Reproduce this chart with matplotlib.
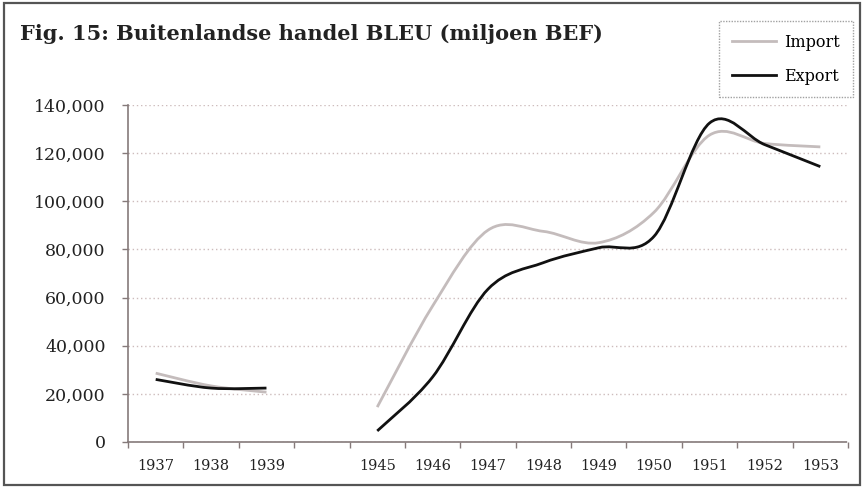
import matplotlib
matplotlib.use("Agg")
import matplotlib.pyplot as plt
from matplotlib.path import Path
from matplotlib.patches import PathPatch, Rectangle
from matplotlib.lines import Line2D
import numpy as np

categories = ['1937', '1938', '1939', '', '1945', '1946', '1947', '1948',
              '1949', '1950', '1951', '1952', '1953']
import_vals = [28600, 23300, 20700, None, 14500, 56500, 88000, 87500,
               82800, 95500, 127500, 124000, 122600]
export_vals = [26000, 22400, 22400, None, 4600, 27000, 63500, 74500,
               80700, 85500, 132500, 123500, 114400]
y_ticks = [0, 20000, 40000, 60000, 80000, 100000, 120000, 140000]

FONT = ['DejaVu Serif']
plt.rcParams['font.family'] = FONT

W, H = 864, 488
fig = plt.figure(figsize=(W / 100, H / 100), dpi=100)
ax = fig.add_axes([128 / W, 1 - 442 / H, (848 - 128) / W, (442 - 105) / H])


def smooth_path(vals):
    """Catmull-Rom style bezier through each contiguous run of points."""
    verts, codes = [], []
    runs, cur = [], []
    for i, v in enumerate(vals):
        if v is None:
            if cur:
                runs.append(cur)
            cur = []
        else:
            cur.append((i, v))
    if cur:
        runs.append(cur)
    for run in runs:
        pts = np.array(run, dtype=float)
        n = len(pts)
        verts.append(tuple(pts[0]))
        codes.append(Path.MOVETO)
        for k in range(n - 1):
            p0 = pts[k - 1] if k > 0 else pts[k]
            p1 = pts[k]
            p2 = pts[k + 1]
            p3 = pts[k + 2] if k + 2 < n else pts[k + 1]
            c1 = p1 + (p2 - p0) / 6.0
            c2 = p2 - (p3 - p1) / 6.0
            verts += [tuple(c1), tuple(c2), tuple(p2)]
            codes += [Path.CURVE4] * 3
    return Path(verts, codes)


imp_color = '#c4bcbc'
exp_color = '#111111'
ax.add_patch(PathPatch(smooth_path(import_vals), fill=False,
                       edgecolor=imp_color, lw=2.0, capstyle='butt', zorder=3))
ax.add_patch(PathPatch(smooth_path(export_vals), fill=False,
                       edgecolor=exp_color, lw=2.0, capstyle='butt', zorder=4))

x = np.arange(len(categories))
ax.set_xlim(-0.5, len(categories) - 0.5)
ax.set_ylim(0, 140000)

ax.set_yticks(y_ticks)
ax.set_yticklabels([f'{v:,}' for v in y_ticks])
ax.set_xticks(x)
ax.set_xticklabels(categories)
ax.set_xticks(np.arange(-0.5, len(categories), 1.0), minor=True)

ax.grid(axis='y', linestyle=(0, (1, 2)), color='#cdbcbc', lw=1.0, zorder=1)
ax.set_axisbelow(True)

for s in ['top', 'right']:
    ax.spines[s].set_visible(False)
for s in ['left', 'bottom']:
    ax.spines[s].set_color('#857a7a')
    ax.spines[s].set_linestyle((0, (2, 1)))
    ax.spines[s].set_linewidth(1.2)

ax.tick_params(axis='y', which='major', length=4, width=1, color='#857a7a',
               pad=12, labelsize=12.5, labelcolor='#222222')
ax.tick_params(axis='x', which='major', length=0, pad=12, labelsize=10.5,
               labelcolor='#222222')
ax.tick_params(axis='x', which='minor', length=4, width=1, color='#857a7a')

fig.text(20 / W, 1 - 40 / H, 'Fig. 15: Buitenlandse handel BLEU (miljoen BEF)',
         fontsize=15, fontweight='bold', color='#222222', va='baseline',
         ha='left')

handles = [Line2D([], [], color=imp_color, lw=2.0),
           Line2D([], [], color=exp_color, lw=2.0)]
leg = fig.legend(handles, ['Import', 'Export'], loc='upper right',
                 bbox_to_anchor=(853 / W, 1 - 21 / H), fontsize=11.5,
                 frameon=True, fancybox=False, handlelength=2.8,
                 handletextpad=0.5, labelspacing=1.05, borderpad=0.8,
                 borderaxespad=0.0)
fr = leg.get_frame()
fr.set_edgecolor('#8a8a8a')
fr.set_linestyle((0, (1, 1)))
fr.set_linewidth(1.0)

fig.patches.append(Rectangle((4 / W, 3 / H), (W - 8) / W, (H - 6) / H,
                             transform=fig.transFigure, fill=False,
                             edgecolor='#555555', lw=1.6))

fig.savefig('out.png', dpi=100)
